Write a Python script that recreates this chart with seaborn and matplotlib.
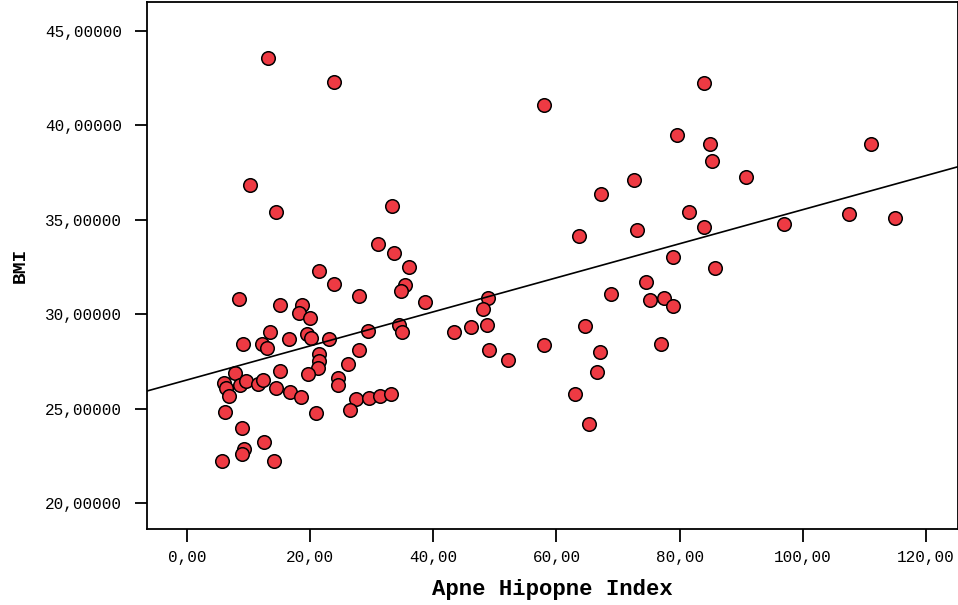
import numpy as np
import pandas as pd
import seaborn as sns
import matplotlib.pyplot as plt
from matplotlib.ticker import FuncFormatter

# Apne Hipopne Index values
ahi = [13.2, 23.8, 10.3, 14.4, 33.3, 30.95, 33.6, 36.05, 21.4, 23.9, 27.9, 35.35, 34.75, 38.65,
       8.4, 15.05, 18.6, 18.2, 19.9, 13.4, 29.4, 34.5, 34.9, 9.15, 12.2, 13.0, 16.5, 19.5, 20.1,
       23.1, 21.4, 21.4, 21.2, 28.0, 26.2, 7.85, 15.1, 19.6, 24.5, 24.5, 6.0, 6.3, 6.8, 8.6, 9.6,
       11.5, 12.3, 14.45, 16.7, 18.5, 20.95, 6.2, 27.4, 29.5, 31.4, 33.1, 26.5, 8.9, 12.5, 9.3,
       9.0, 5.7, 14.2,
       43.4, 46.1, 48.7, 48.8, 48.0, 49.1, 52.1, 58.0, 58.0, 63.6, 64.6, 63.0, 65.2, 66.5, 67.0,
       67.2, 68.9, 72.6, 73.1, 74.5, 75.2, 77.5, 78.9, 77.0, 78.9, 79.5, 81.5, 83.9, 84.0, 84.9,
       85.3, 85.7, 90.7, 96.9, 107.5, 111.0, 115.0]
bmi = [43.59, 42.32, 36.84, 35.4, 35.71, 33.73, 33.24, 32.52, 32.3, 31.62, 30.98, 31.55, 31.21, 30.65,
       30.82, 30.5, 30.49, 30.08, 29.78, 29.07, 29.09, 29.41, 29.06, 28.4, 28.44, 28.19, 28.67, 28.97, 28.74,
       28.69, 27.89, 27.54, 27.15, 28.1, 27.35, 26.9, 27.0, 26.85, 26.62, 26.25, 26.34, 26.07, 25.68, 26.23, 26.45,
       26.3, 26.51, 26.07, 25.86, 25.6, 24.78, 24.82, 25.49, 25.55, 25.67, 25.77, 24.93, 23.99, 23.25, 22.84,
       22.6, 22.22, 22.22,
       29.07, 29.32, 29.43, 30.87, 30.26, 28.09, 27.56, 28.35, 41.1, 34.16, 29.36, 25.77, 24.18, 26.94, 28.01,
       36.38, 31.09, 37.09, 34.46, 31.72, 30.75, 30.86, 30.42, 28.42, 33.05, 39.5, 35.4, 34.6, 42.27, 39.0,
       38.13, 32.46, 37.25, 34.76, 35.3, 39.0, 35.1]

df = pd.DataFrame({"Apne Hipopne Index": ahi, "BMI": bmi})

sns.set_style("ticks")
plt.rcParams["font.family"] = ["Liberation Mono", "DejaVu Sans Mono"]
plt.rcParams["text.color"] = "black"
plt.rcParams["axes.labelcolor"] = "black"

fig = plt.figure(figsize=(9.58, 6.05), dpi=100)
ax = fig.add_axes([0.1534, 0.1256, 0.8466, 0.871])
ax.set_xlim(-6.5, 125.2)
ax.set_ylim(18.62, 46.54)

sns.regplot(data=df, x="Apne Hipopne Index", y="BMI", ax=ax, ci=None, truncate=False,
            scatter_kws=dict(s=95, color="#EE3A43", edgecolors="black", linewidths=1.1, alpha=1),
            line_kws=dict(color="black", lw=1.2))

ax.set_xticks([0, 20, 40, 60, 80, 100, 120])
ax.set_yticks([20, 25, 30, 35, 40, 45])
ax.xaxis.set_major_formatter(FuncFormatter(lambda v, p: f"{v:.2f}".replace(".", ",")))
ax.yaxis.set_major_formatter(FuncFormatter(lambda v, p: f"{v:.5f}".replace(".", ",")))
ax.tick_params(axis="both", direction="out", length=9, width=1.3, colors="black", labelsize=11.5)
ax.tick_params(axis="x", pad=6)
ax.tick_params(axis="y", pad=9)

for side in ["left", "bottom", "top", "right"]:
    ax.spines[side].set_color("black")
    ax.spines[side].set_linewidth(1.3)

ax.set_xlabel("Apne Hipopne Index", fontsize=16, fontweight="bold", labelpad=10)
ax.set_ylabel("BMI", fontsize=14, fontweight="bold", labelpad=12)

fig.savefig("out.png", dpi=100)
